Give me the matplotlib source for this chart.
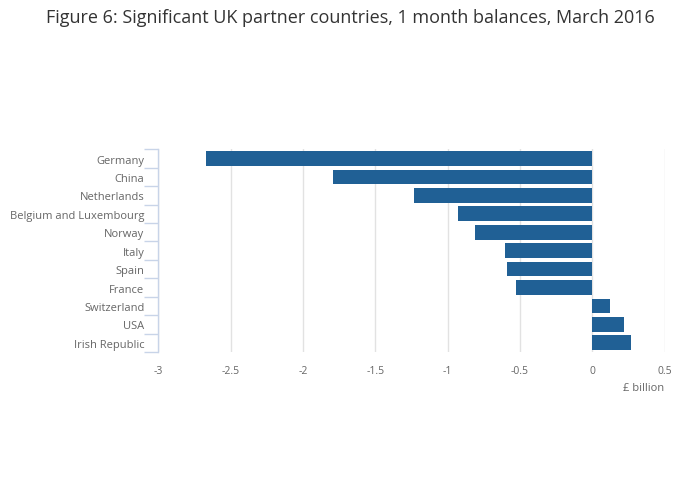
import matplotlib
matplotlib.use("Agg")
import matplotlib.pyplot as plt

countries = ["Germany", "China", "Netherlands", "Belgium and Luxembourg", "Norway",
             "Italy", "Spain", "France", "Switzerland", "USA", "Irish Republic"]
values = [-2.67, -1.79, -1.23, -0.93, -0.81, -0.60, -0.59, -0.53, 0.12, 0.22, 0.27]
xticks = [-3, -2.5, -2, -1.5, -1, -0.5, 0, 0.5]
xticklabels = ["-3", "-2.5", "-2", "-1.5", "-1", "-0.5", "0", "0.5"]

plt.rcParams['font.family'] = ['Open Sans', 'DejaVu Sans']

fig = plt.figure(figsize=(7.0, 5.02), dpi=100)
top_px, bot_px = 150.3, 353.0
ax = fig.add_axes([0.2262, 1 - bot_px / 502, 0.9494 - 0.2262, (bot_px - top_px) / 502])

n = len(countries)
ypos = list(range(n))
ax.barh(ypos, values, height=0.8, color="#206095", zorder=3)
ax.set_ylim(n - 0.5, -0.5)
ax.set_xlim(-3, 0.5)

ax.set_xticks(xticks)
ax.set_xticklabels(xticklabels, color="#666666", fontsize=7.5)
ax.tick_params(axis="x", length=0, pad=9)
ax.grid(axis="x", color="#e2e2e2", linewidth=1, zorder=0)

# y ticks at category boundaries, labels at centres
ax.set_yticks([i - 0.5 for i in range(n + 1)])
ax.set_yticklabels([])
ax.set_yticks(ypos, minor=True)
ax.set_yticklabels(countries, minor=True, color="#666666", fontsize=8)
ax.tick_params(axis="y", which="major", length=10, color="#c8d4e8", width=1)
ax.tick_params(axis="y", which="minor", length=0, pad=10)

for s in ["top", "right", "bottom"]:
    ax.spines[s].set_visible(False)
ax.spines["left"].set_color("#c8d4e8")
ax.spines["left"].set_linewidth(1)

fig.text(0.5, 1 - 18 / 502, "Figure 6: Significant UK partner countries, 1 month balances, March 2016",
         ha="center", va="center", fontsize=13, color="#333333")
fig.text(664.6 / 700, 1 - 389 / 502, "£ billion", ha="right", va="center",
         fontsize=8, color="#666666")

fig.savefig("out.png", dpi=100)
